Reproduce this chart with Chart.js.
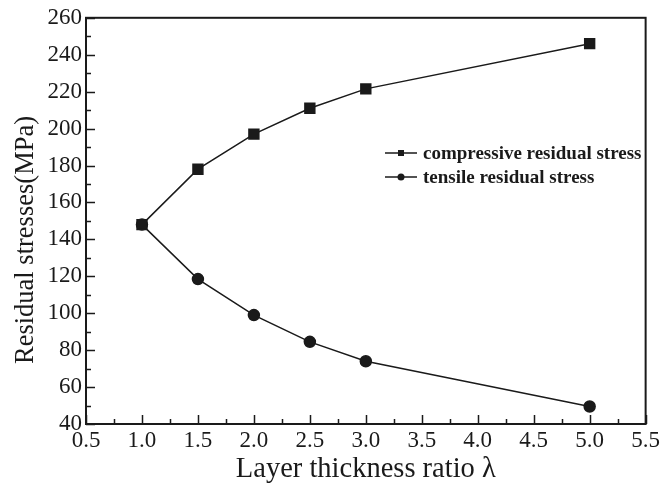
<!DOCTYPE html>
<html>
<head>
<meta charset="utf-8">
<script src="https://cdn.jsdelivr.net/npm/chart.js@4/dist/chart.umd.min.js"></script>
<style>
  html, body { margin: 0; padding: 0; background: #fff; }
  #wrap { width: 663px; height: 485px; }
</style>
</head>
<body>
<div id="wrap"><canvas id="chart" width="663" height="485"></canvas></div>
<script>
// ---- data ----
const ratios      = [1.0, 1.5, 2.0, 2.5, 3.0, 5.0];
const compressive = [148, 178, 197, 211, 221.5, 246];
const tensile     = [148, 118.5, 99, 84.5, 74, 49.5];
const seriesNames = ['compressive residual stress', 'tensile residual stress'];
const xTicks = [0.5, 1.0, 1.5, 2.0, 2.5, 3.0, 3.5, 4.0, 4.5, 5.0, 5.5];
const yTicks = [40, 60, 80, 100, 120, 140, 160, 180, 200, 220, 240, 260];
const xTitle = 'Layer thickness ratio λ';
const yTitle = 'Residual stresses(MPa)';

const INK = '#1a1a1a';
const SERIF = '"Liberation Serif", "Times New Roman", serif';

const toPoints = vals => ratios.map((x, i) => ({ x, y: vals[i] }));

// frame, inward ticks, y title (sits a bit low, as in the original) and in-plot legend
const decor = {
  id: 'decor',
  afterDraw(chart) {
    const { ctx, chartArea: a, scales: { x, y } } = chart;
    ctx.save();
    ctx.strokeStyle = INK;
    ctx.lineWidth = 1.5;
    // minor + major ticks, pointing inward
    ctx.beginPath();
    for (let v = xTicks[0]; v <= xTicks[xTicks.length - 1] + 1e-9; v += 0.25) {
      const px = Math.round(x.getPixelForValue(v)) + 0.5;
      const major = Math.abs(v * 2 - Math.round(v * 2)) < 1e-6;
      ctx.moveTo(px, a.bottom);
      ctx.lineTo(px, a.bottom - (major ? 9 : 5));
    }
    for (let v = yTicks[0]; v <= yTicks[yTicks.length - 1]; v += 10) {
      const py = Math.round(y.getPixelForValue(v)) + 0.5;
      const major = v % 20 === 0;
      ctx.moveTo(a.left, py);
      ctx.lineTo(a.left + (major ? 9 : 5), py);
    }
    ctx.stroke();
    // frame
    ctx.lineWidth = 2;
    ctx.strokeRect(a.left, a.top, a.right - a.left, a.bottom - a.top);

    // y title
    ctx.fillStyle = INK;
    ctx.save();
    ctx.translate(33, 240);
    ctx.rotate(-Math.PI / 2);
    ctx.font = '26.5px ' + SERIF;
    ctx.textAlign = 'center';
    ctx.textBaseline = 'alphabetic';
    ctx.fillText(yTitle, 0, 0);
    ctx.restore();

    // legend
    ctx.font = 'bold 19px ' + SERIF;
    ctx.textBaseline = 'middle';
    chart.data.datasets.forEach((ds, i) => {
      const ly = 153 + i * 24;
      ctx.lineWidth = 1.5;
      ctx.beginPath();
      ctx.moveTo(385, ly);
      ctx.lineTo(417, ly);
      ctx.stroke();
      ctx.beginPath();
      if (ds.pointStyle === 'rect') ctx.rect(398, ly - 3, 6, 6);
      else ctx.arc(401, ly, 3.5, 0, Math.PI * 2);
      ctx.fill();
      ctx.fillText(ds.label, 423, ly + 1);
    });
    ctx.restore();
  }
};

new Chart(document.getElementById('chart'), {
  type: 'line',
  data: {
    datasets: [
      {
        label: seriesNames[0],
        data: toPoints(compressive),
        borderColor: INK,
        backgroundColor: INK,
        borderWidth: 1.5,
        pointStyle: 'rect',
        pointRadius: 7,
        tension: 0,
      },
      {
        label: seriesNames[1],
        data: toPoints(tensile),
        borderColor: INK,
        backgroundColor: INK,
        borderWidth: 1.5,
        pointStyle: 'circle',
        pointRadius: 5.5,
        tension: 0,
      },
    ],
  },
  options: {
    responsive: false,
    animation: false,
    events: [],
    layout: { padding: { top: 17, right: 15, left: 0, bottom: 0 } },
    plugins: { legend: { display: false }, tooltip: { enabled: false } },
    scales: {
      x: {
        type: 'linear',
        min: 0.5,
        max: 5.5,
        afterBuildTicks: s => { s.ticks = xTicks.map(value => ({ value })); },
        afterFit: s => { s.height = 61; },
        grid: { display: false, drawTicks: false },
        border: { display: false },
        ticks: {
          padding: 3,
          color: INK,
          font: { family: SERIF, size: 23 },
          callback: v => v.toFixed(1),
          maxRotation: 0,
        },
        title: {
          display: true,
          text: xTitle,
          color: INK,
          font: { family: SERIF, size: 28.5, lineHeight: 1.1 },
          padding: { top: 0, bottom: 0 },
        },
      },
      y: {
        min: 40,
        max: 260,
        afterBuildTicks: s => { s.ticks = yTicks.map(value => ({ value })); },
        afterFit: s => { s.width = 86; },
        grid: { display: false, drawTicks: false },
        border: { display: false },
        ticks: {
          padding: 4,
          color: INK,
          font: { family: SERIF, size: 23 },
        },
        title: { display: false },
      },
    },
  },
  plugins: [decor],
});
</script>
</body>
</html>
